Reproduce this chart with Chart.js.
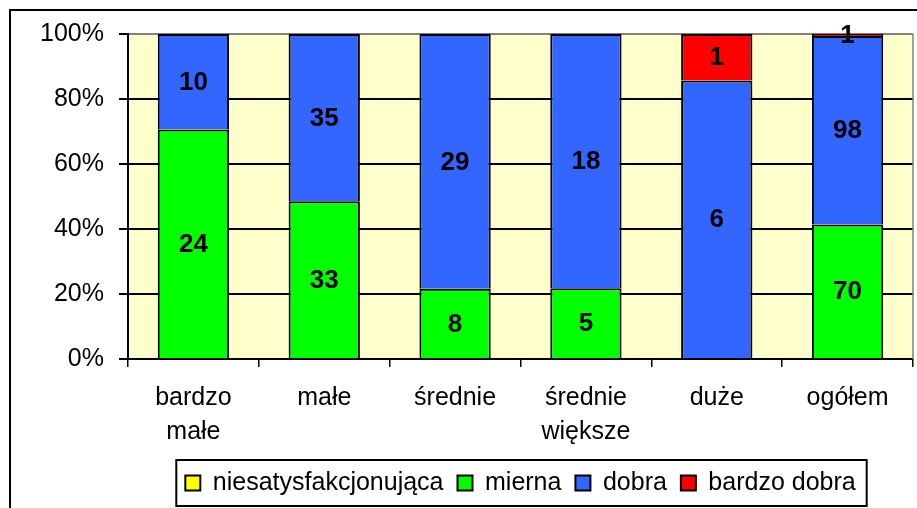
<!DOCTYPE html>
<html>
<head>
<meta charset="utf-8">
<script src="https://cdn.jsdelivr.net/npm/chart.js@4/dist/chart.umd.min.js"></script>
<style>
  html, body { margin: 0; padding: 0; background: #fff; overflow: hidden; }
  #wrap { width: 917px; height: 508px; }
</style>
</head>
<body>
<div id="wrap"><canvas id="chart" width="917" height="508"></canvas></div>
<script>
const categories = [['bardzo', 'małe'], 'małe', 'średnie', ['średnie', 'większe'], 'duże', 'ogółem'];
const niesatysfakcjonujaca = [0, 0, 0, 0, 0, 0];
const mierna = [24, 33, 8, 5, 0, 70];
const dobra = [10, 35, 29, 18, 6, 98];
const bardzoDobra = [0, 0, 0, 0, 1, 1];
const percentTicks = [0, 20, 40, 60, 80, 100];

const totals = categories.map((c, j) => niesatysfakcjonujaca[j] + mierna[j] + dobra[j] + bardzoDobra[j]);
const toPercent = (arr) => arr.map((v, j) => v ? v / totals[j] * 100 : null);

const makeSet = (label, counts, color) => ({
  label: label,
  counts: counts,
  data: toPercent(counts),
  backgroundColor: color,
  borderColor: '#000',
  borderWidth: 2,
  barPercentage: 0.545,
  categoryPercentage: 1
});

Chart.defaults.font.family = "'Liberation Sans', Arial, sans-serif";
Chart.defaults.font.size = 25;
Chart.defaults.color = '#000';

// plot background, plot border, value labels, legend frame, outer frame
const decorations = {
  id: 'decorations',
  beforeDraw(chart) {
    const { ctx, chartArea: a } = chart;
    ctx.save();
    ctx.fillStyle = '#FFFFCC';
    ctx.fillRect(a.left, a.top, a.right - a.left, a.bottom - a.top);
    ctx.restore();
  },
  beforeDatasetsDraw(chart) {
    const { ctx, chartArea: a } = chart;
    ctx.save();
    ctx.strokeStyle = '#808080';
    ctx.lineWidth = 1.5;
    ctx.beginPath();
    ctx.moveTo(a.right, a.top);
    ctx.lineTo(a.right, a.bottom);
    ctx.stroke();
    ctx.restore();
  },
  afterDatasetsDraw(chart) {
    const ctx = chart.ctx;
    ctx.save();
    ctx.font = "bold 26px 'Liberation Sans', Arial, sans-serif";
    ctx.fillStyle = '#000';
    ctx.textAlign = 'center';
    ctx.textBaseline = 'middle';
    chart.data.datasets.forEach((ds, i) => {
      chart.getDatasetMeta(i).data.forEach((bar, j) => {
        const v = ds.counts[j];
        if (!v) return;
        ctx.fillText(String(v), bar.x, (bar.y + bar.base) / 2 + 1);
      });
    });
    ctx.restore();
  },
  afterDraw(chart) {
    const ctx = chart.ctx;
    const boxes = chart.legend.legendHitBoxes;
    const left = Math.min(...boxes.map(b => b.left)) - 9;
    const right = Math.max(...boxes.map(b => b.left + b.width)) + 11;
    const top = boxes[0].top - 10.5;
    const bottom = boxes[0].top + boxes[0].height + 10.5;
    ctx.save();
    ctx.strokeStyle = '#000';
    ctx.lineWidth = 2;
    ctx.strokeRect(left, top, right - left, bottom - top);
    ctx.strokeRect(10, 10, 2000, 2000);
    ctx.restore();
  }
};

new Chart(document.getElementById('chart'), {
  type: 'bar',
  data: {
    labels: categories,
    datasets: [
      makeSet('niesatysfakcjonująca', niesatysfakcjonujaca, '#FFFF00'),
      makeSet('mierna', mierna, '#00FF00'),
      makeSet('dobra', dobra, '#3366FF'),
      makeSet('bardzo dobra', bardzoDobra, '#FF0000')
    ]
  },
  options: {
    responsive: false,
    devicePixelRatio: 1,
    animation: false,
    layout: { padding: { left: 0, top: 34, right: 4, bottom: 2.5 } },
    plugins: {
      legend: {
        position: 'bottom',
        fullSize: false,
        labels: { boxWidth: 15, boxHeight: 15, padding: 14, font: { size: 25 } }
      },
      tooltip: { enabled: false }
    },
    scales: {
      x: {
        stacked: true,
        afterFit: (s) => { s.height = 97.5; },
        grid: { display: true, drawOnChartArea: false, offset: true, tickLength: 8, color: '#000', lineWidth: 1.5 },
        border: { color: '#000', width: 2 },
        ticks: { padding: 14, font: { size: 25, lineHeight: 1.35 } }
      },
      y: {
        stacked: true,
        min: 0,
        max: 100,
        afterFit: (s) => { s.width = 128; },
        afterBuildTicks: (s) => { s.ticks = percentTicks.map(v => ({ value: v })); },
        grid: {
          color: (c) => c.tick && c.tick.value === 100 ? '#808080' : '#000',
          tickColor: '#000',
          lineWidth: 2,
          tickLength: 9
        },
        border: { color: '#000', width: 2 },
        ticks: { padding: 15, font: { size: 25 }, callback: (v) => v + '%' }
      }
    }
  },
  plugins: [decorations]
});
</script>
</body>
</html>
